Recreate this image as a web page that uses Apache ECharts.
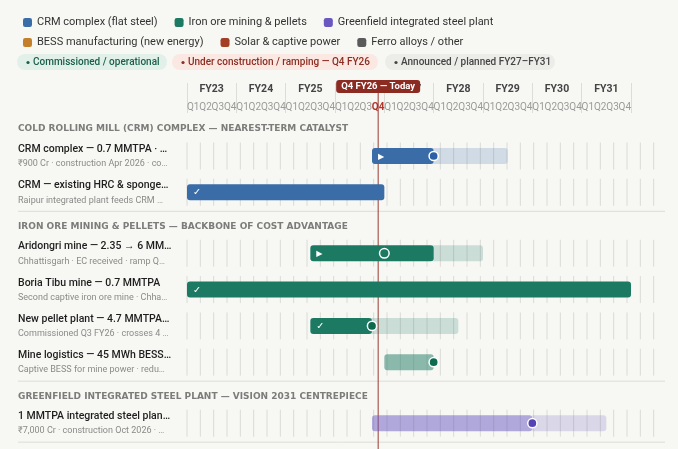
<!DOCTYPE html>
<html><head><meta charset="utf-8">
<script src="https://cdn.jsdelivr.net/npm/echarts@6/dist/echarts.min.js"></script>
<style>html,body{margin:0;padding:0;background:#f7f7f4;}#chart{width:678px;height:449px;}</style>
</head><body><div id="chart"></div>
<script>
// ---------- data ----------
const fiscalYears = ['FY23','FY24','FY25','FY26','FY27','FY28','FY29','FY30','FY31'];
const quarterNames = ['Q1','Q2','Q3','Q4'];
const todayQuarter = 15.5;          // Q4 FY26, in quarters counted from FY23 Q1
const todayLabel = 'Q4 FY26 — Today';

const programNames = ['CRM complex (flat steel)','Iron ore mining & pellets','Greenfield integrated steel plant',
  'BESS manufacturing (new energy)','Solar & captive power','Ferro alloys / other'];
const programColors = ['#3a6ca8','#1d7a62','#6a58c0','#c47f2a','#a23f25','#5a5a5a'];
const programDark = ['#2e60a5','#0c6a4e','#5744b4','#a9661c','#8a3019','#444444'];
const programRGB = [[58,108,168],[29,122,98],[106,88,192],[196,127,42],[162,63,37],[90,90,90]];

const statusChips = ['Commissioned / operational','Under construction / ramping — Q4 FY26','Announced / planned FY27–FY31'];

const sectionTitles = [
  'COLD ROLLING MILL (CRM) COMPLEX — NEAREST-TERM CATALYST',
  'IRON ORE MINING & PELLETS — BACKBONE OF COST ADVANTAGE',
  'GREENFIELD INTEGRATED STEEL PLANT — VISION 2031 CENTREPIECE'
];
const rowSection = [0,0,1,1,1,1,2];
const rowProgram = [0,0,1,1,1,1,2];
const rowTitles = [
  'CRM complex — 0.7 MMTPA · …',
  'CRM — existing HRC & sponge…',
  'Aridongri mine — 2.35 → 6 MM…',
  'Boria Tibu mine — 0.7 MMTPA',
  'New pellet plant — 4.7 MMTPA…',
  'Mine logistics — 45 MWh BESS…',
  '1 MMTPA integrated steel plan…'
];
const rowNotes = [
  '₹900 Cr · construction Apr 2026 · co…',
  'Raipur integrated plant feeds CRM …',
  'Chhattisgarh · EC received · ramp Q…',
  'Second captive iron ore mine · Chha…',
  'Commissioned Q3 FY26 · crosses 4 …',
  'Captive BESS for mine power · redu…',
  '₹7,000 Cr · construction Oct 2026 · …'
];
// quarters counted from FY23 Q1 (0) to end of FY31 Q4 (36)
const barStart    = [15, 0, 10, 0, 10, 16, 15];
const barProgress = [20, 16, 20, 36, 15, 20, 28];
const barEnd      = [26, 16, 24, 36, 22, 20, 34];
const barTone     = ['solid','solid','solid','solid','solid','soft','soft'];
const markerAt    = [20, null, 16, null, 15, 20, 28];
const markerKind  = ['dot', null, 'ring', null, 'dot', 'dot', 'dot'];
const barIcon     = ['▶','✓','▶','✓','✓','',''];

// ---------- layout ----------
const W = 678, H = 449;
const plotLeft = 187, plotWidth = 444, gridPatternWidth = 480, headerBottom = 113;
const firstHeaderY = 129, headerToRow = 27, rowStep = 36.3, rowToDivider = 19, dividerToHeader = 15;

const headerY = [], rowY = [], dividerY = [];
(function(){
  let cur = -1, last = 0, y = firstHeaderY;
  for (let i = 0; i < rowTitles.length; i++) {
    let ry;
    if (rowSection[i] !== cur) {
      if (cur >= 0) { dividerY.push(last + rowToDivider); y = last + rowToDivider + dividerToHeader; }
      headerY.push(y); cur = rowSection[i]; ry = y + headerToRow;
    } else ry = last + rowStep;
    rowY.push(ry); last = ry;
  }
  dividerY.push(last + rowToDivider);
})();

const quarterCats = [];
fiscalYears.forEach(fy => quarterNames.forEach(q => quarterCats.push(q)));
const todayIndex = Math.floor(todayQuarter);

// ---------- graphics (legend chips, labels) ----------
const FONT = 'Roboto';
const graphics = [];
const chipX = [17, 172, 385], chipW = [150, 206, 170];
const chipFill = ['#e1f1ea','#fbe8e3','#ecece9'], chipText = ['#1b5e49','#8c2e22','#454545'];
statusChips.forEach((t, i) => {
  graphics.push({type:'rect', shape:{x:chipX[i], y:54, width:chipW[i], height:16, r:8}, style:{fill:chipFill[i]}, silent:true});
  graphics.push({type:'circle', shape:{cx:chipX[i]+11, cy:62.5, r:1.6}, style:{fill:chipText[i]}, silent:true});
  graphics.push({type:'text', x:chipX[i]+16, y:62, style:{text:t, fill:chipText[i], fontSize:10, fontWeight:500, fontFamily:FONT, verticalAlign:'middle'}, silent:true});
});
sectionTitles.forEach((t, i) => {
  graphics.push({type:'text', x:18, y:headerY[i], style:{text:t, fill:'#7c7c7a', fontSize:9, fontWeight:'bold', fontFamily:'DejaVu Sans', verticalAlign:'middle'}, silent:true});
});
dividerY.forEach(y => {
  graphics.push({type:'line', shape:{x1:18, y1:y, x2:665, y2:y}, style:{stroke:'#dcdcd8', lineWidth:1}, silent:true});
});
rowTitles.forEach((t, i) => {
  graphics.push({type:'text', x:18, y:rowY[i]-6.5, style:{text:t, fill:'#1e1e1e', fontSize:10.5, fontWeight:500, fontFamily:FONT, verticalAlign:'middle'}, silent:true});
  graphics.push({type:'text', x:18, y:rowY[i]+8, style:{text:rowNotes[i], fill:'#8a8a88', fontSize:9, fontFamily:FONT, verticalAlign:'middle'}, silent:true});
});

// ---------- series ----------
function rgba(k, a){ const c = programRGB[k]; return 'rgba(' + c[0] + ',' + c[1] + ',' + c[2] + ',' + a + ')'; }

function renderBar(params, api) {
  const idx = api.value(4);
  const k = rowProgram[idx];
  const start = api.value(0), prog = api.value(1), end = api.value(2), y = api.value(3);
  const h = 16, r = 3;
  const p0 = api.coord([start, y]), p1 = api.coord([prog, y]), p2 = api.coord([end, y]);
  const children = [];
  const solid = barTone[idx] === 'solid';
  if (end > prog) {
    const lx = solid ? p1[0] - r : p1[0];
    children.push({type:'rect', shape:{x:lx, y:p0[1]-h/2, width:p2[0]-lx, height:h, r:solid ? r : [0,r,r,0]},
      style:{fill:rgba(k, 0.2)}});
  }
  children.push({type:'rect', shape:{x:p0[0], y:p0[1]-h/2, width:p1[0]-p0[0], height:h, r:r},
    style:{fill: solid ? programColors[k] : rgba(k, 0.5)}});
  if (barIcon[idx]) {
    children.push({type:'text', x:p0[0]+6, y:p0[1]+0.5, style:{text:barIcon[idx], fill:'#ffffff',
      fontSize: barIcon[idx] === '▶' ? 8 : 9.5, fontFamily:'DejaVu Sans', verticalAlign:'middle'}});
  }
  if (markerAt[idx] != null) {
    const m = api.coord([markerAt[idx], y]);
    if (markerKind[idx] === 'ring') {
      children.push({type:'circle', shape:{cx:m[0], cy:m[1], r:4.8}, style:{fill:programColors[k], stroke:'#ffffff', lineWidth:1.5}});
    } else {
      children.push({type:'circle', shape:{cx:m[0], cy:m[1], r:4.6}, style:{fill:programDark[k], stroke:'#ffffff', lineWidth:1.5}});
    }
  }
  return {type:'group', children};
}

const programSeries = programNames.map((name, k) => ({
  type:'custom', name, xAxisIndex:0, yAxisIndex:0, z:3, clip:false,
  itemStyle:{color: programColors[k]},
  renderItem: renderBar,
  data: rowTitles.map((t, i) => i).filter(i => rowProgram[i] === k)
    .map(i => [barStart[i], barProgress[i], barEnd[i], rowY[i], i])
}));

const gridLineSeries = {
  type:'custom', name:'rowgrid', xAxisIndex:3, yAxisIndex:1, z:1, silent:true, clip:false,
  data: rowY.map(y => [y]),
  renderItem(params, api) {
    const y = api.value(0);
    const children = [];
    for (let q = 0; q < 36; q++) {
      const p = api.coord([q, y]);
      children.push({type:'line', shape:{x1:p[0], y1:y-13.5, x2:p[0], y2:y+13.5}, style:{stroke:'#dadad6', lineWidth:1}});
    }
    return {type:'group', children};
  }
};

const todaySeries = {
  type:'custom', name:'today', xAxisIndex:0, yAxisIndex:0, z:2, silent:true, clip:false,
  data: [[todayQuarter]],
  renderItem(params, api) {
    const top = api.coord([api.value(0), 93]);
    const bot = api.coord([api.value(0), H]);
    const boxTop = api.coord([api.value(0), 80]);
    return {type:'group', children:[
      {type:'line', shape:{x1:top[0], y1:top[1], x2:bot[0], y2:bot[1]}, style:{stroke:'#9b3b33', lineWidth:1}},
      {type:'rect', z2:10, shape:{x:top[0]-42, y:boxTop[1], width:84, height:top[1]-boxTop[1], r:[3,3,3,3]}, style:{fill:'#8b2b22'}},
      {type:'text', z2:11, x:top[0], y:(top[1]+boxTop[1])/2, style:{text:todayLabel, fill:'#ffffff', fontSize:9.5, fontWeight:'bold', fontFamily:FONT, align:'center', verticalAlign:'middle'}}
    ]};
  }
};

const option = {
  backgroundColor:'#f7f7f4',
  animation:false,
  textStyle:{fontFamily:FONT},
  legend:[
    {data:programNames.slice(0,3), left:18, top:12, itemWidth:9, itemHeight:9, itemGap:17, icon:'roundRect',
     textStyle:{fontSize:11, color:'#333'}, selectedMode:false},
    {data:programNames.slice(3), left:18, top:32, itemWidth:9, itemHeight:9, itemGap:17, icon:'roundRect',
     textStyle:{fontSize:11, color:'#333'}, selectedMode:false}
  ],
  grid:[
    {left:plotLeft, top:headerBottom, width:plotWidth, bottom:0},
    {left:plotLeft, top:headerBottom, width:gridPatternWidth, bottom:0}
  ],
  xAxis:[
    {type:'value', gridIndex:0, min:0, max:36, show:false},
    {type:'category', gridIndex:0, position:'top', data:quarterCats, boundaryGap:true,
     axisLine:{show:false}, splitLine:{show:false},
     axisTick:{show:true, length:30, interval:(i) => i % 4 === 0, lineStyle:{color:'#dcdcd8'}},
     axisLabel:{interval:0, fontSize:10, color:'#9a9a98', margin:1,
       formatter:(v, i) => i === todayIndex ? '{today|' + v + '}' : v,
       rich:{today:{color:'#b0352b', fontSize:10, fontWeight:'bold'}}}},
    {type:'category', gridIndex:0, position:'top', offset:16, data:fiscalYears, boundaryGap:true,
     axisLine:{show:false}, axisTick:{show:false}, splitLine:{show:false},
     axisLabel:{interval:0, fontSize:10.5, fontWeight:'bold', color:'#444', margin:2}},
    {type:'value', gridIndex:1, min:0, max:36, show:false}
  ],
  yAxis:[
    {type:'value', gridIndex:0, min:headerBottom, max:H, inverse:true, show:false},
    {type:'value', gridIndex:1, min:headerBottom, max:H, inverse:true, show:false}
  ],
  graphic: graphics,
  series: [gridLineSeries, todaySeries].concat(programSeries)
};

const chart = echarts.init(document.getElementById('chart'), null, {renderer:'canvas'});
chart.setOption(option);
</script></body></html>
